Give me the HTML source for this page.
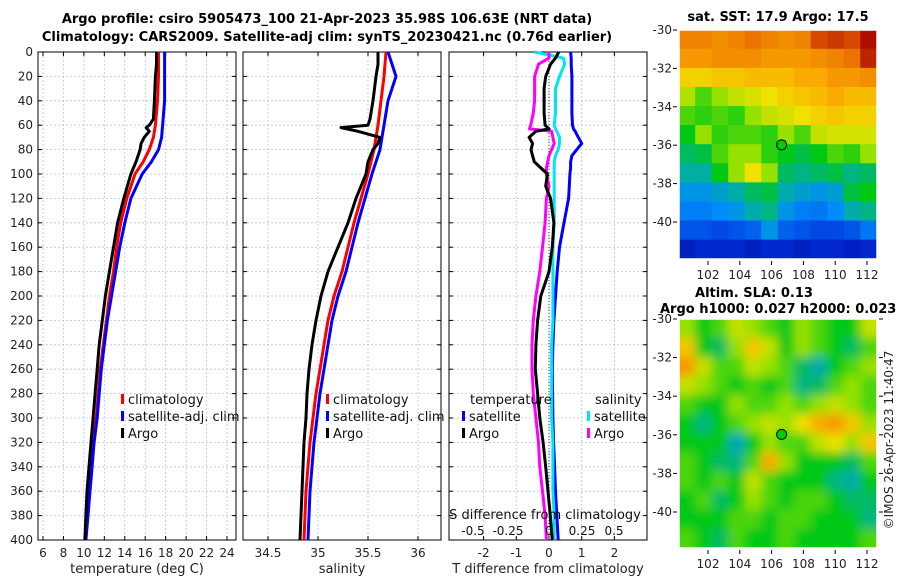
<!DOCTYPE html>
<html><head><meta charset="utf-8">
<style>
html,body{margin:0;padding:0;background:#fff;}
svg{display:block;font-family:"DejaVu Sans","Liberation Sans",sans-serif;}
</style></head>
<body>
<svg id="c" width="900" height="580" viewBox="0 0 900 580" xmlns="http://www.w3.org/2000/svg">
<defs>
<filter id="blur" x="-10%" y="-10%" width="120%" height="120%"><feGaussianBlur stdDeviation="5"/></filter>
<clipPath id="clipM2"><rect x="679" y="319" width="198" height="229"/></clipPath>
</defs>
<text x="327" y="23" text-anchor="middle" font-size="13" font-weight="bold">Argo profile: csiro 5905473_100 21-Apr-2023 35.98S 106.63E (NRT data)</text>
<text x="327" y="41" text-anchor="middle" font-size="13" font-weight="bold">Climatology: CARS2009. Satellite-adj clim: synTS_20230421.nc (0.76d earlier)</text>
<text x="778" y="21" text-anchor="middle" font-size="13" font-weight="bold">sat. SST: 17.9 Argo: 17.5</text>
<text x="754" y="297" text-anchor="middle" font-size="13" font-weight="bold">Altim. SLA: 0.13</text>
<text x="660" y="313" font-size="13" font-weight="bold">Argo h1000: 0.027 h2000: 0.023</text>
<text transform="translate(893,440) rotate(-90)" text-anchor="middle" font-size="12" fill="#222">©IMOS 26-Apr-2023 11:40:47</text>
<g id="g"></g>
</svg>
<script>
// ---- depth axis ----
const depthTicks=[0,20,40,60,80,100,120,140,160,180,200,220,240,260,280,300,320,340,360,380,400];
// ---- temperature panel ----
const tTicks=[6,8,10,12,14,16,18,20,22,24];
const climDepth=[0,20,40,60,70,80,90,100,120,140,160,180,200,220,240,260,280,300,320,340,360,380,400];
const tClim=[17.3,17.3,17.2,17.0,16.8,16.4,15.8,15.0,14.2,13.6,13.2,12.9,12.5,12.2,11.9,11.6,11.4,11.2,10.9,10.7,10.5,10.3,10.1];
const tSat=[17.9,17.9,17.9,17.7,17.6,17.3,16.6,15.7,14.6,14.0,13.5,13.1,12.7,12.3,12.0,11.7,11.5,11.3,11.0,10.8,10.6,10.4,10.2];
const argoDepth=[0,10,20,40,55,60,62,65,70,75,80,90,100,120,140,160,180,200,220,240,260,280,300,320,340,360,380,400];
const tArgo=[17.1,17.1,17.0,16.9,16.8,16.4,16.1,16.4,15.9,15.6,15.5,15.1,14.6,13.9,13.3,12.9,12.5,12.1,11.8,11.5,11.3,11.1,10.9,10.7,10.5,10.3,10.2,10.1];
// ---- salinity panel ----
const sTicks=[34.5,35,35.5,36];
const sTickLabels=["34.5","35","35.5","36"];
const sClim=[35.68,35.66,35.63,35.6,35.58,35.56,35.53,35.5,35.43,35.36,35.3,35.24,35.16,35.1,35.06,35.02,34.98,34.95,34.92,34.9,34.88,34.87,34.86];
const sSat=[35.7,35.78,35.7,35.66,35.64,35.62,35.58,35.54,35.47,35.4,35.34,35.28,35.2,35.14,35.1,35.06,35.02,34.99,34.96,34.94,34.92,34.91,34.9];
const sArgo=[35.6,35.6,35.58,35.55,35.52,35.5,35.23,35.4,35.62,35.6,35.55,35.5,35.48,35.38,35.3,35.2,35.1,35.03,34.98,34.94,34.91,34.89,34.88,34.86,34.85,34.84,34.83,34.82];
// ---- difference panel ----
const dTTicks=[-2,-1,0,1,2];
const dSTicks=[-0.5,-0.25,0,0.25,0.5];
const dSTickLabels=["-0.5","-0.25","0","0.25","0.5"];
const diffDepth=[0,5,10,20,30,40,50,60,63,65,70,75,80,85,90,95,100,110,120,140,160,180,200,220,240,260,280,300,320,340,360,380,400];
const dTSat=[0.66,0.68,0.68,0.7,0.7,0.7,0.7,0.72,0.75,0.8,0.9,1.0,0.85,0.7,0.66,0.66,0.64,0.62,0.6,0.46,0.32,0.25,0.2,0.15,0.12,0.1,0.11,0.12,0.14,0.17,0.2,0.24,0.28];
const dTArgo=[0.3,0.2,0.05,-0.1,-0.15,-0.15,-0.15,-0.12,0.0,-0.4,-0.61,-0.5,-0.55,-0.5,-0.45,-0.25,-0.05,-0.1,0.05,0.15,0.1,0.0,-0.25,-0.35,-0.4,-0.42,-0.35,-0.28,-0.18,-0.1,-0.03,0.04,0.1];
const dSSat=[-0.11,0.11,0.12,0.08,0.05,0.05,0.05,0.04,0.05,0.06,0.08,0.08,0.07,0.05,0.04,0.04,0.04,0.04,0.04,0.04,0.03,0.03,0.03,0.03,0.02,0.02,0.02,0.02,0.03,0.03,0.03,0.04,0.04];
const dSArgo=[0.0,0.0,-0.08,-0.11,-0.11,-0.11,-0.12,-0.14,-0.15,0.02,0.03,0.04,0.02,0.0,-0.01,-0.02,-0.02,0.0,-0.02,-0.03,-0.05,-0.07,-0.1,-0.12,-0.13,-0.13,-0.12,-0.1,-0.08,-0.07,-0.05,-0.03,-0.02];
// ---- map grids (colormap fraction), rows north->south, cols west->east ----
const mapLonTicks=[102,104,106,108,110,112];
const mapLatTicks=[-30,-32,-34,-36,-38,-40];
const sstGrid=[
[.82,.82,.8,.82,.85,.82,.8,.82,.9,.92,.9,.98],
[.78,.78,.8,.8,.8,.78,.78,.78,.8,.82,.85,.95],
[.68,.68,.7,.7,.72,.72,.72,.75,.75,.78,.78,.8],
[.58,.5,.55,.6,.62,.65,.68,.7,.72,.75,.72,.72],
[.5,.48,.5,.48,.55,.6,.62,.65,.68,.7,.68,.68],
[.45,.55,.48,.5,.5,.48,.55,.5,.6,.62,.62,.62],
[.4,.42,.5,.55,.55,.48,.45,.42,.45,.5,.48,.55],
[.36,.36,.45,.55,.65,.55,.4,.38,.4,.42,.38,.4],
[.3,.3,.32,.35,.4,.42,.35,.32,.3,.32,.42,.45],
[.26,.26,.28,.3,.35,.38,.3,.26,.25,.28,.35,.38],
[.2,.2,.18,.2,.22,.3,.22,.2,.18,.18,.2,.25],
[.1,.12,.12,.12,.1,.12,.12,.1,.12,.12,.1,.12]];
const slaGrid=[
[.55,.45,.5,.6,.55,.5,.45,.55,.5,.45,.45,.6],
[.7,.45,.4,.55,.7,.6,.45,.55,.5,.45,.4,.5],
[.78,.6,.5,.5,.6,.55,.5,.4,.35,.45,.5,.55],
[.6,.55,.5,.45,.5,.45,.5,.38,.4,.5,.55,.5],
[.5,.45,.45,.55,.5,.5,.55,.5,.55,.6,.55,.5],
[.45,.38,.45,.5,.55,.6,.55,.65,.75,.78,.7,.55],
[.45,.45,.45,.34,.45,.55,.5,.5,.6,.65,.55,.7],
[.5,.45,.4,.38,.5,.75,.55,.45,.45,.45,.4,.5],
[.5,.45,.5,.45,.6,.5,.45,.45,.45,.38,.35,.45],
[.45,.5,.4,.45,.55,.5,.45,.5,.5,.45,.4,.4],
[.45,.45,.45,.5,.5,.45,.5,.5,.45,.45,.45,.38],
[.5,.45,.4,.5,.45,.45,.5,.45,.45,.45,.45,.5]];
const argoLon=106.63, argoLat=-35.98;

const NS="http://www.w3.org/2000/svg";
const G=document.getElementById('g');
function mk(tag,attrs,parent,text){const e=document.createElementNS(NS,tag);for(const k in attrs)e.setAttribute(k,attrs[k]);if(text!==undefined)e.textContent=text;(parent||G).appendChild(e);return e;}
const Y0=52,Y1=540;
function yD(d){return Y0+(d/400)*(Y1-Y0);}
function lin(d0,d1,p0,p1){return v=>p0+(v-d0)/(d1-d0)*(p1-p0);}
const CM=[[0,0,0,140],[0.15,0,50,220],[0.28,0,140,250],[0.36,0,175,160],[0.45,0,200,20],[0.55,150,225,0],[0.65,240,225,0],[0.75,250,170,0],[0.85,235,115,0],[0.93,200,50,0],[1,165,0,0]];
function cmap(v){v=Math.max(0,Math.min(1,v));for(let i=1;i<CM.length;i++){if(v<=CM[i][0]){const a=CM[i-1],b=CM[i],f=(v-a[0])/(b[0]-a[0]);return `rgb(${Math.round(a[1]+f*(b[1]-a[1]))},${Math.round(a[2]+f*(b[2]-a[2]))},${Math.round(a[3]+f*(b[3]-a[3]))})`;}}return 'rgb(165,0,0)';}

function panel(name,x0,x1,xs,ticks,labels,showY){
  const p=mk('g',{});
  
  
  depthTicks.forEach(d=>{const l=mk('line',{x1:x0,x2:x1,y1:yD(d),y2:yD(d),stroke:'#b8c4e6','stroke-width':0.8,'stroke-dasharray':'2,2'},p);
    
    mk('line',{x1:x0,x2:x0+4,y1:yD(d),y2:yD(d),stroke:'#000'},p);mk('line',{x1:x1-4,x2:x1,y1:yD(d),y2:yD(d),stroke:'#000'},p);
    if(showY){const t=mk('text',{x:x0-5,y:yD(d)+4,'text-anchor':'end','font-size':12,fill:'#222'},p,String(d));}
  });
  ticks.forEach((v,i)=>{const x=xs(v);
    const l=mk('line',{x1:x,x2:x,y1:Y0,y2:Y1,stroke:'#b8c4e6','stroke-width':0.8,'stroke-dasharray':'2,2'},p);
    
    mk('line',{x1:x,x2:x,y1:Y1-4,y2:Y1,stroke:'#000'},p);mk('line',{x1:x,x2:x,y1:Y0,y2:Y0+4,stroke:'#000'},p);
    const t=mk('text',{x:x,y:557,'text-anchor':'middle','font-size':12,fill:'#222'},p,labels[i]);
  });
  const fr=mk('rect',{x:x0,y:Y0,width:x1-x0,height:Y1-Y0,fill:'none',stroke:'#000','stroke-width':1},p);
  
  return p;
}
function line(p,xs,vals,deps,color,name,dash){
  const pts=vals.map((v,i)=>xs(v).toFixed(1)+','+yD(deps[i]).toFixed(1)).join(' ');
  const l=mk('polyline',{points:pts,fill:'none',stroke:color,'stroke-width':dash?1.2:3,'stroke-linejoin':'round'},p);
  if(dash)l.setAttribute('stroke-dasharray',dash);
  
}
function legend(p,x,y,color,label,name){
  const r=mk('rect',{x:x,y:y-9,width:3,height:10,fill:color},p);
  
  const t=mk('text',{x:x+7,y:y+1,'font-size':13,fill:'#111'},p,label);
  
}
// temperature
const xT=lin(6,24,43,227);
const p1=panel('temperature-panel',38,236,xT,tTicks,tTicks.map(String),true);
line(p1,xT,tClim,climDepth,'#f00','temp-climatology-line');
line(p1,xT,tSat,climDepth,'#00f','temp-satellite-line');
line(p1,xT,tArgo,argoDepth,'#000','temp-argo-line');
legend(p1,121,403,'#f00','climatology','legend-climatology');
legend(p1,121,420,'#00f','satellite-adj. clim','legend-satellite-adj');
legend(p1,121,437,'#000','Argo','legend-argo');
let t=mk('text',{x:137,y:573,'text-anchor':'middle','font-size':13,fill:'#222'},p1,'temperature (deg C)');
// salinity
const xS=lin(34.5,36,268,418);
const p2=panel('salinity-panel',243,441,xS,sTicks,sTickLabels,false);
line(p2,xS,sClim,climDepth,'#f00','sal-climatology-line');
line(p2,xS,sSat,climDepth,'#00f','sal-satellite-line');
line(p2,xS,sArgo,argoDepth,'#000','sal-argo-line');
legend(p2,326,403,'#f00','climatology','legend-climatology');
legend(p2,326,420,'#00f','satellite-adj. clim','legend-satellite-adj');
legend(p2,326,437,'#000','Argo','legend-argo');
t=mk('text',{x:342,y:573,'text-anchor':'middle','font-size':13,fill:'#222'},p2,'salinity');
// difference
const xDT=lin(0,1,549,581.7);
const xDS=lin(0,0.25,549,581.7);
const p3=panel('difference-panel',449,647,xDT,dTTicks,dTTicks.map(String),false);
line(p3,xDT,diffDepth.map(()=>0),diffDepth,'#555','zero-line','1,2');
line(p3,xDT,dTSat,diffDepth,'#00f','dT-satellite-line');
line(p3,xDS,dSSat,diffDepth,'#00e5ee','dS-satellite-line');
line(p3,xDS,dSArgo,diffDepth,'#f0f','dS-argo-line');
line(p3,xDT,dTArgo,diffDepth,'#000','dT-argo-line');
t=mk('text',{x:470,y:404,'font-size':13,fill:'#111'},p3,'temperature');
t=mk('text',{x:595,y:404,'font-size':13,fill:'#111'},p3,'salinity');
legend(p3,462,420,'#00f','satellite','legend-temp-satellite');
legend(p3,462,437,'#000','Argo','legend-temp-argo');
legend(p3,587,420,'#00e5ee','satellite','legend-sal-satellite');
legend(p3,587,437,'#f0f','Argo','legend-sal-argo');
t=mk('text',{x:545,y:519,'text-anchor':'middle','font-size':13,fill:'#111'},p3,'S difference from climatology');
dSTicks.forEach((v,i)=>{const tt=mk('text',{x:[473,508,549,582,614][i],y:535,'text-anchor':'middle','font-size':12,fill:'#111'},p3,dSTickLabels[i]);});
t=mk('text',{x:548,y:573,'text-anchor':'middle','font-size':13,fill:'#222'},p3,'T difference from climatology');

// maps
function map(name,grid,top,bottom,lat30y,lat40y,blur,yLabRight){
  const m=mk('g',{});
  
  const x0=679,x1=877,rows=grid.length,cols=grid[0].length;
  const cw=(x1-x0)/cols,ch=(bottom-top)/rows;
  const holder=blur?mk('g',{'clip-path':'url(#clipM2)'},m):m;
  const cells=mk('g',blur?{filter:'url(#blur)'}:{},holder);
  grid.forEach((row,r)=>row.forEach((v,c)=>{
    // edge cells extended outward when blurred so edges stay saturated
    let x=x0+c*cw-0.3,y=top+r*ch-0.3,w=cw+0.6,h=ch+0.6;
    if(blur){if(c===0){x-=15;w+=15;}if(c===cols-1)w+=15;if(r===0){y-=15;h+=15;}if(r===rows-1)h+=15;}
    const rc=mk('rect',{x:x,y:y,width:w,height:h,fill:cmap(v)},cells);
    
  }));
  const xl=lin(102,112,708,867), yl=lin(-30,-40,lat30y,lat40y);
  mk('rect',{x:x0,y:top,width:x1-x0,height:bottom-top,fill:'none',stroke:'#fff','stroke-width':1.5},m);
  mapLonTicks.forEach(v=>{mk('line',{x1:xl(v),x2:xl(v),y1:bottom+2,y2:bottom+6,stroke:'#000'},m);
    const tt=mk('text',{x:xl(v),y:bottom+20,'text-anchor':'middle','font-size':12,fill:'#222'},m,String(v));});
  mapLatTicks.forEach(v=>{mk('line',{x1:x0-6,x2:x0-2,y1:yl(v),y2:yl(v),stroke:'#000'},m);
    if(yLabRight)mk('line',{x1:x1+2,x2:x1+6,y1:yl(v),y2:yl(v),stroke:'#000'},m);
    const tt=mk('text',{x:x0-7,y:yl(v)+4,'text-anchor':'end','font-size':12,fill:'#222'},m,String(v));});
  const cc=mk('circle',{cx:xl(argoLon),cy:yl(argoLat),r:5,fill:'#0c0',stroke:'#000','stroke-width':1},m);
  
}
map('sst-map',sstGrid,30,259,30,222,false,false);
map('sla-map',slaGrid,319,548,319,512,true,true);
</script>
</body></html>
